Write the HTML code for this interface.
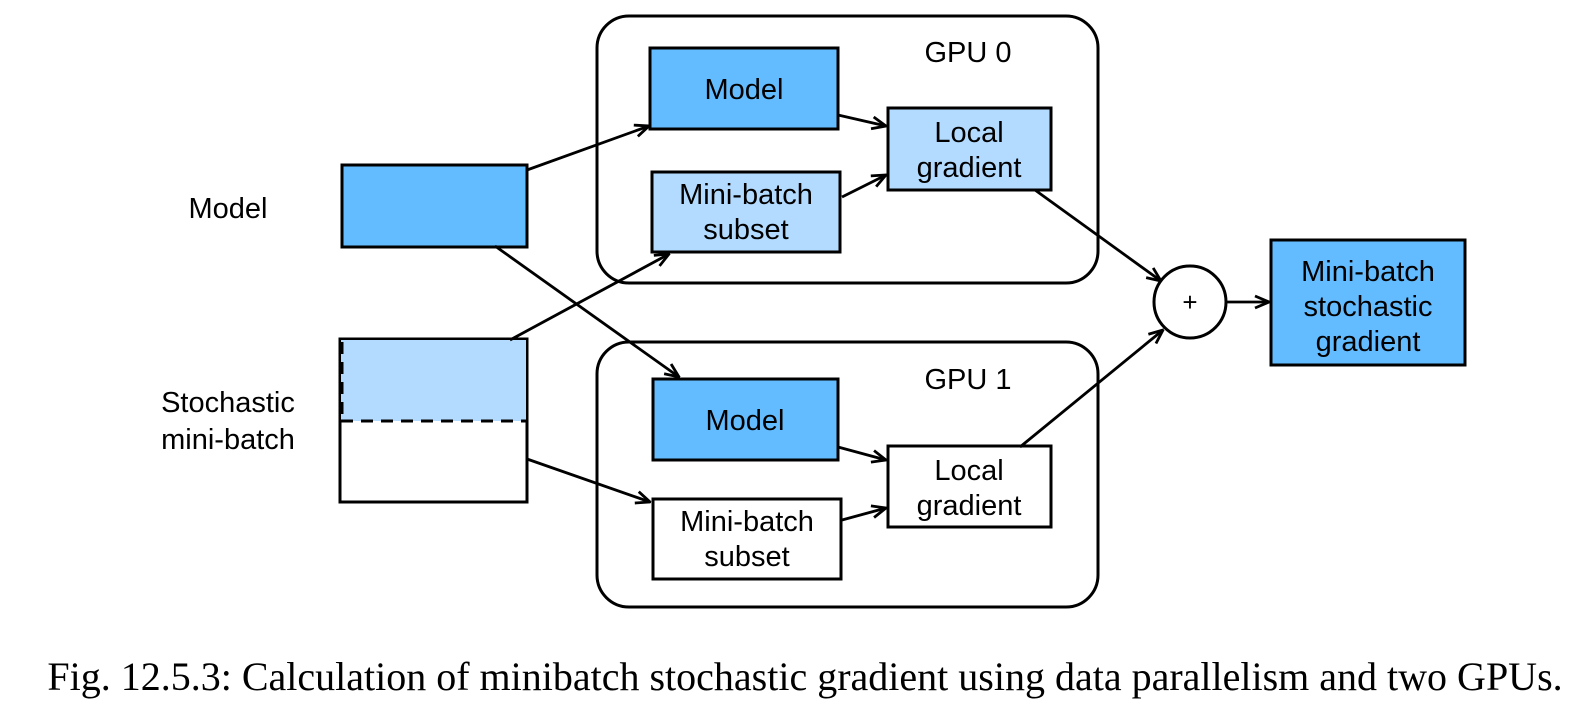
<!DOCTYPE html>
<html><head><meta charset="utf-8"><style>
html,body{margin:0;padding:0;background:#fff;width:1596px;height:708px;overflow:hidden}
svg{display:block}
text{font-family:"Liberation Sans",sans-serif;fill:#000}
</style></head><body>
<svg width="1596" height="708" viewBox="0 0 1596 708" xmlns="http://www.w3.org/2000/svg">
<defs>
<marker id="a" viewBox="0 0 16 16" refX="15" refY="8" markerWidth="16" markerHeight="16" markerUnits="userSpaceOnUse" orient="auto">
<path d="M1,2 L15,8 L1,14" fill="none" stroke="#000" stroke-width="2.8"/>
</marker>
</defs>
<g stroke="#000" stroke-width="3">
<rect x="597" y="16" width="501" height="267" rx="32" fill="none"/>
<rect x="597" y="342" width="501" height="265" rx="32" fill="none"/>
<rect x="342" y="165" width="185" height="82" fill="#63bcff"/>
<rect x="340" y="339" width="187" height="163" fill="#fff"/>
<rect x="341" y="340" width="185" height="81" fill="#b3dbff" stroke="none"/>
<line x1="341" y1="421" x2="526" y2="421" stroke-dasharray="12,8"/>
<line x1="342" y1="342" x2="342" y2="421" stroke-dasharray="12,8"/>
<rect x="650" y="48" width="188" height="81" fill="#63bcff"/>
<rect x="652" y="172" width="188" height="80" fill="#b3dbff"/>
<rect x="888" y="108" width="163" height="82" fill="#b3dbff"/>
<rect x="653" y="379" width="185" height="81" fill="#63bcff"/>
<rect x="653" y="499" width="188" height="80" fill="#fff"/>
<rect x="888" y="446" width="163" height="81" fill="#fff"/>
<circle cx="1190" cy="302" r="36" fill="#fff"/>
<rect x="1271" y="240" width="194" height="125" fill="#63bcff"/>
</g>
<g stroke="#000" stroke-width="2.8" marker-end="url(#a)">
<line x1="527" y1="170" x2="649" y2="126"/>
<line x1="495" y1="246" x2="679" y2="377"/>
<line x1="510" y1="340" x2="669" y2="254"/>
<line x1="527" y1="459" x2="650" y2="502"/>
<line x1="838" y1="115" x2="886" y2="126"/>
<line x1="842" y1="197" x2="886" y2="175"/>
<line x1="1035" y1="190" x2="1161" y2="281"/>
<line x1="838" y1="447" x2="886" y2="460"/>
<line x1="842" y1="520" x2="886" y2="508"/>
<line x1="1020" y1="447" x2="1163" y2="330"/>
<line x1="1227" y1="302" x2="1269" y2="302"/>
</g>
<g font-size="29" text-anchor="middle">
<text x="968" y="62">GPU 0</text>
<text x="968" y="389">GPU 1</text>
<text x="744" y="99">Model</text>
<text x="746" y="204">Mini-batch</text>
<text x="746" y="239">subset</text>
<text x="969" y="142">Local</text>
<text x="969" y="177">gradient</text>
<text x="745" y="430">Model</text>
<text x="747" y="531">Mini-batch</text>
<text x="747" y="566">subset</text>
<text x="969" y="480">Local</text>
<text x="969" y="515">gradient</text>
<text x="1190" y="311" font-size="26">+</text>
<text x="1368" y="281">Mini-batch</text>
<text x="1368" y="316">stochastic</text>
<text x="1368" y="351">gradient</text>
<text x="228" y="218">Model</text>
<text x="228" y="412">Stochastic</text>
<text x="228" y="449">mini-batch</text>
</g>
<text x="805" y="690" text-anchor="middle" font-size="40" style="font-family:'Liberation Serif',serif">Fig. 12.5.3: Calculation of minibatch stochastic gradient using data parallelism and two GPUs.</text>
</svg>
</body></html>
